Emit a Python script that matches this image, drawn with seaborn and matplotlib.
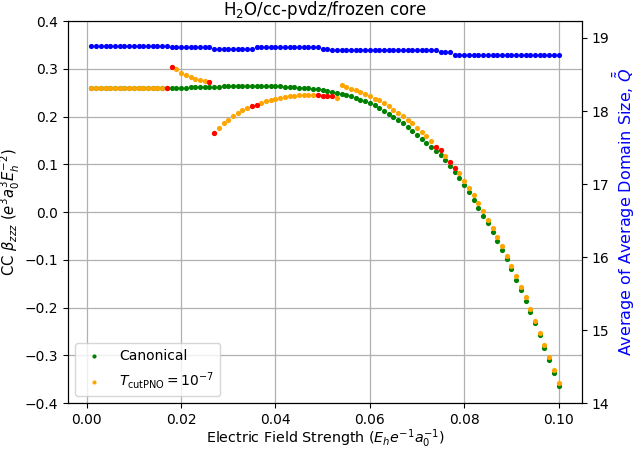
import numpy as np
import pandas as pd
import matplotlib
matplotlib.use("Agg")
import matplotlib.pyplot as plt
import seaborn as sns

# --- Data ---
field = [
    0.001, 0.002, 0.003, 0.004, 0.005, 0.006, 0.007, 0.008, 0.009, 0.010,
    0.011, 0.012, 0.013, 0.014, 0.015, 0.016, 0.017, 0.018, 0.019, 0.020,
    0.021, 0.022, 0.023, 0.024, 0.025, 0.026, 0.027, 0.028, 0.029, 0.030,
    0.031, 0.032, 0.033, 0.034, 0.035, 0.036, 0.037, 0.038, 0.039, 0.040,
    0.041, 0.042, 0.043, 0.044, 0.045, 0.046, 0.047, 0.048, 0.049, 0.050,
    0.051, 0.052, 0.053, 0.054, 0.055, 0.056, 0.057, 0.058, 0.059, 0.060,
    0.061, 0.062, 0.063, 0.064, 0.065, 0.066, 0.067, 0.068, 0.069, 0.070,
    0.071, 0.072, 0.073, 0.074, 0.075, 0.076, 0.077, 0.078, 0.079, 0.080,
    0.081, 0.082, 0.083, 0.084, 0.085, 0.086, 0.087, 0.088, 0.089, 0.090,
    0.091, 0.092, 0.093, 0.094, 0.095, 0.096, 0.097, 0.098, 0.099, 0.100,
]

canonical = [
    0.260, 0.260, 0.260, 0.260, 0.260, 0.260, 0.260, 0.260, 0.260, 0.260,
    0.260, 0.260, 0.260, 0.260, 0.260, 0.260, 0.260, 0.260, 0.2605, 0.261,
    0.261, 0.2615, 0.262, 0.262, 0.2625, 0.2625, 0.263, 0.263, 0.2635, 0.2635,
    0.264, 0.264, 0.264, 0.264, 0.2642, 0.2642, 0.2642, 0.264, 0.264, 0.2638,
    0.2635, 0.263, 0.2625, 0.262, 0.261, 0.2604, 0.2595, 0.258, 0.257, 0.2555,
    0.254, 0.252, 0.250, 0.248, 0.245, 0.243, 0.2396, 0.236, 0.2325, 0.228,
    0.2235, 0.218, 0.212, 0.206, 0.200, 0.193, 0.186, 0.1785, 0.171, 0.1625,
    0.154, 0.1455, 0.137, 0.128, 0.119, 0.1083, 0.0965, 0.084, 0.0708, 0.0563,
    0.0417, 0.0263, 0.0096, -0.007, -0.023, -0.0417, -0.0604, -0.079, -0.0988, -0.120,
    -0.141, -0.163, -0.186, -0.208, -0.233, -0.258, -0.284, -0.310, -0.337, -0.363,
]

tcut = [
    0.260, 0.260, 0.260, 0.260, 0.260, 0.260, 0.260, 0.260, 0.260, 0.260,
    0.260, 0.260, 0.260, 0.260, 0.260, 0.260, 0.260, 0.305, 0.299, 0.292,
    0.287, 0.283, 0.279, 0.277, 0.275, 0.273, 0.165, 0.176, 0.186, 0.194,
    0.202, 0.208, 0.214, 0.219, 0.223, 0.225, 0.229, 0.2326, 0.2346, 0.2375,
    0.2396, 0.241, 0.2423, 0.2437, 0.2444, 0.245, 0.245, 0.245, 0.2444, 0.243,
    0.243, 0.243, 0.239, 0.266, 0.2625, 0.259, 0.255, 0.251, 0.2475, 0.243,
    0.238, 0.234, 0.229, 0.222, 0.215, 0.208, 0.201, 0.194, 0.186, 0.177,
    0.168, 0.1596, 0.149, 0.1375, 0.130, 0.118, 0.106, 0.0917, 0.082, 0.066,
    0.0513, 0.036, 0.0194, 0.0027, -0.0154, -0.0327, -0.052, -0.0717, -0.0917, -0.1125,
    -0.134, -0.156, -0.1785, -0.203, -0.227, -0.252, -0.278, -0.304, -0.331, -0.357,
]

# points next to a domain-size change (highlighted in red)
changed_fields = [0.017, 0.018, 0.026, 0.027, 0.035, 0.036, 0.049, 0.050,
                  0.051, 0.052, 0.074, 0.075, 0.077, 0.078]

domain_size = [
    18.89, 18.89, 18.89, 18.89, 18.89, 18.89, 18.89, 18.89, 18.89, 18.89,
    18.89, 18.89, 18.89, 18.89, 18.89, 18.89, 18.89, 18.87, 18.87, 18.87,
    18.87, 18.87, 18.87, 18.87, 18.87, 18.87, 18.845, 18.845, 18.845, 18.845,
    18.845, 18.845, 18.845, 18.845, 18.845, 18.875, 18.875, 18.875, 18.875, 18.875,
    18.875, 18.875, 18.875, 18.875, 18.875, 18.875, 18.875, 18.875, 18.875, 18.85,
    18.85, 18.83, 18.83, 18.83, 18.83, 18.83, 18.83, 18.83, 18.83, 18.83,
    18.83, 18.83, 18.83, 18.83, 18.83, 18.83, 18.83, 18.83, 18.83, 18.83,
    18.83, 18.83, 18.83, 18.83, 18.81, 18.81, 18.81, 18.765, 18.765, 18.765,
    18.765, 18.765, 18.765, 18.765, 18.765, 18.765, 18.765, 18.765, 18.765, 18.765,
    18.765, 18.765, 18.765, 18.765, 18.765, 18.765, 18.765, 18.765, 18.765, 18.765,
]

# --- DataFrames ---
df = pd.DataFrame({"field": field, "canonical": canonical, "tcut": tcut,
                   "domain": domain_size})
red_df = df[df["field"].round(3).isin(changed_fields)]

# --- Style ---
plt.rcParams.update({
    "font.size": 10,
    "axes.titlesize": 12,
    "xtick.labelsize": 10,
    "ytick.labelsize": 10,
    "legend.fontsize": 10,
})

# --- Plot ---
fig = plt.figure(figsize=(6.36, 4.51), dpi=100)
ax = fig.add_axes([0.107, 0.106, 0.808, 0.847])
ms = 14

sns.scatterplot(data=df, x="field", y="canonical", color="green", s=ms,
                linewidth=0, label="Canonical", ax=ax, zorder=3)
sns.scatterplot(data=df, x="field", y="tcut", color="orange", s=ms,
                linewidth=0, label=r"$T_{\mathrm{cutPNO}} = 10^{-7}$", ax=ax, zorder=3)
sns.scatterplot(data=red_df, x="field", y="tcut", color="red", s=ms,
                linewidth=0, ax=ax, zorder=4, legend=False)

ax.set_xlim(-0.00395, 0.10495)
ax.set_ylim(-0.4, 0.4)
ax.set_xticks([0.00, 0.02, 0.04, 0.06, 0.08, 0.10])
ax.set_yticks(np.round(np.arange(-0.4, 0.41, 0.1), 1))
ax.grid(True, color="#b0b0b0", linewidth=0.9)
ax.set_axisbelow(True)
ax.set_title("H$_2$O/cc-pvdz/frozen core", pad=4)
ax.set_xlabel(r"Electric Field Strength ($E_h e^{-1} a_0^{-1}$)", fontsize=10.3, labelpad=0.5)
ax.set_ylabel(r"CC $\beta_{zzz}$ ($e^3 a_0^3 E_h^{-2}$)", fontsize=10.6, labelpad=2)
ax.legend(loc="lower left", markerscale=0.8, handletextpad=0.8)

ax2 = ax.twinx()
sns.scatterplot(data=df, x="field", y="domain", color="blue", s=ms,
                linewidth=0, ax=ax2, legend=False)
ax2.set_ylim(14.0, 19.23)
ax2.set_yticks([14, 15, 16, 17, 18, 19])
ax2.set_ylabel(r"Average of Average Domain Size, $\bar{\tilde{Q}}$", color="blue",
               fontsize=11.5, labelpad=1)
ax2.set_xlim(-0.00395, 0.10495)

fig.savefig("out.png", dpi=100)
